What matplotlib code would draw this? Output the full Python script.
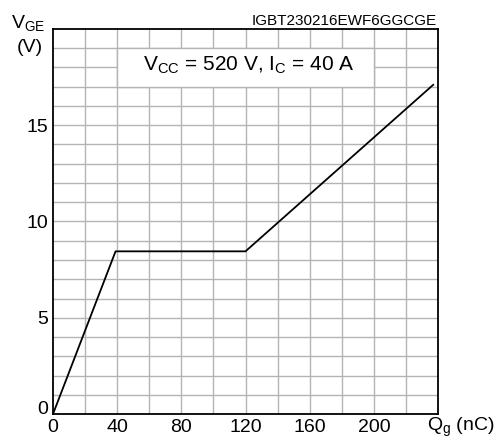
import matplotlib
matplotlib.use("Agg")
import matplotlib.pyplot as plt
from matplotlib.patches import Rectangle

plt.rcParams['font.family'] = ['Liberation Sans', 'DejaVu Sans']
plt.rcParams['mathtext.fontset'] = 'custom'
plt.rcParams['mathtext.rm'] = 'Liberation Sans'
plt.rcParams['mathtext.it'] = 'Liberation Sans'

qg = [0, 39, 120, 237]
vge = [0, 8.45, 8.45, 17.1]
xticks = [0, 40, 80, 120, 160, 200]
yticks = [0, 5, 10, 15]

fig = plt.figure(figsize=(4.97, 4.4), dpi=100)
ax = fig.add_axes([53/497, 1 - 414/440, 385/497, 385/440])
ax.set_xlim(0, 240)
ax.set_ylim(0, 20)

for x in range(20, 240, 20):
    ax.axvline(x, color='#b4b4b4', lw=1.0, zorder=1)
for y in range(1, 20):
    ax.axhline(y, color='#b4b4b4', lw=1.0, zorder=1)

ax.add_patch(Rectangle((40, 17), 160, 2, facecolor='white', edgecolor='#b4b4b4', lw=1.0, zorder=2))

ax.plot(qg, vge, color='black', lw=1.3, zorder=3)

ax.set_xticks(xticks)
ax.set_xticklabels([str(t) for t in xticks], fontsize=14)
ax.set_yticks(yticks)
ax.set_yticklabels([str(t) for t in yticks], fontsize=14)
ax.tick_params(axis='both', length=0, pad=3.5)
ax.get_yticklabels()[0].set_verticalalignment('baseline')
for s in ax.spines.values():
    s.set_linewidth(1.3)
    s.set_color('black')

ax.text(122, 18.1, r'V$_{\mathrm{CC}}$ = 520 V, I$_{\mathrm{C}}$ = 40 A', fontsize=15,
        ha='center', va='center', zorder=4)
fig.text(437/497, 1 - 21/440, 'IGBT230216EWF6GGCGE', fontsize=11, ha='right', va='center')
fig.text(28/497, 1 - 23/440, r'V$_{\mathrm{GE}}$', fontsize=14, ha='center', va='center')
fig.text(30/497, 1 - 48/440, '(V)', fontsize=14, ha='center', va='center')
fig.text(461/497, 1 - 427/440, r'Q$_{\mathrm{g}}$ (nC)', fontsize=14, ha='center', va='center')

fig.savefig('out.png', dpi=100)
